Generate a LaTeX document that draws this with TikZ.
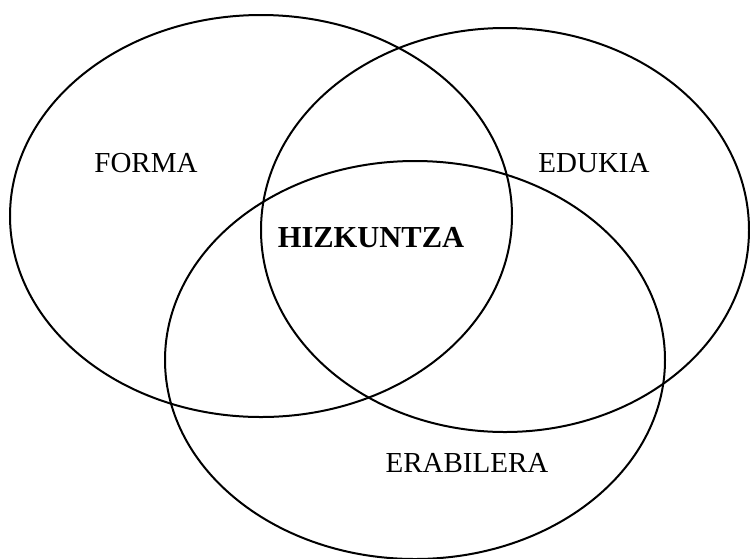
\documentclass[tikz,border=0pt]{standalone}
\usepackage{fontspec}
\setmainfont{Liberation Serif}
\usepackage{tikz}

\begin{document}
\begin{tikzpicture}[x=1pt,y=-1pt,
  circ/.style={line width=2pt},
  lbl/.style={font=\fontsize{29}{34}\selectfont}]
\useasboundingbox (0,0) rectangle (750,558);
\draw [circ] (261,216) ellipse [x radius=251, y radius=201];
\draw [circ] (505,230) ellipse [x radius=244, y radius=202];
\draw [circ] (415,360) ellipse [x radius=250, y radius=199];
\node [lbl] (forma) at (146,163) {FORMA};
\node [lbl] (edukia) at (594,163) {EDUKIA};
\node [lbl] (erabilera) at (467,463) {ERABILERA};
\node [lbl,font=\fontsize{30.5}{36}\selectfont\bfseries] (hizkuntza) at (371,238) {HIZKUNTZA};
\end{tikzpicture}
\end{document}
